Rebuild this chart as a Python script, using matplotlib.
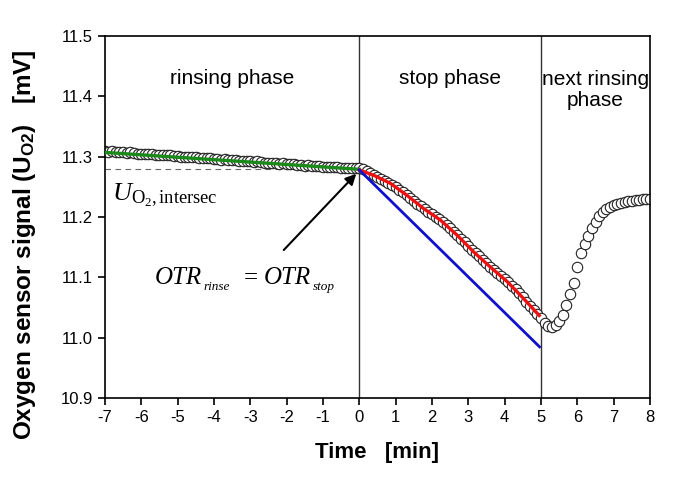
import numpy as np
import matplotlib
matplotlib.use("Agg")
import matplotlib.pyplot as plt

plt.rcParams['font.family'] = ['Liberation Sans', 'DejaVu Sans']
plt.rcParams['axes.unicode_minus'] = False
plt.rcParams['mathtext.fontset'] = 'custom'
plt.rcParams['mathtext.rm'] = 'Liberation Serif'
plt.rcParams['mathtext.it'] = 'Liberation Serif:italic'
plt.rcParams['mathtext.bf'] = 'Liberation Sans:bold'
plt.rcParams['mathtext.sf'] = 'Liberation Sans'

# measured sensor signal, one point every 0.1 min from -7 to 8 min
t_meas = np.round(np.arange(-7.0, 8.05, 0.1), 1)
u_meas = [
    # rinsing phase (-7.0 ... -0.1)
    11.309, 11.308, 11.309, 11.308, 11.307, 11.307, 11.306, 11.307, 11.306, 11.305,
    11.305, 11.304, 11.305, 11.304, 11.303, 11.303, 11.302, 11.303, 11.302, 11.301,
    11.301, 11.300, 11.300, 11.299, 11.300, 11.299, 11.298, 11.298, 11.297, 11.297,
    11.296, 11.296, 11.295, 11.296, 11.295, 11.294, 11.294, 11.293, 11.293, 11.292,
    11.292, 11.291, 11.292, 11.291, 11.290, 11.290, 11.289, 11.289, 11.288, 11.289,
    11.288, 11.287, 11.287, 11.286, 11.286, 11.285, 11.286, 11.285, 11.284, 11.284,
    11.283, 11.283, 11.283, 11.282, 11.282, 11.281, 11.281, 11.281, 11.281, 11.281,
    # stop phase (0.0 ... 4.9)
    11.281, 11.280, 11.277, 11.273, 11.269, 11.266, 11.263, 11.260, 11.257, 11.253,
    11.249, 11.245, 11.241, 11.237, 11.232, 11.227, 11.222, 11.218, 11.213, 11.209,
    11.205, 11.200, 11.196, 11.191, 11.186, 11.181, 11.175, 11.170, 11.164, 11.158,
    11.152, 11.146, 11.140, 11.135, 11.129, 11.124, 11.118, 11.113, 11.108, 11.103,
    11.098, 11.092, 11.086, 11.080, 11.074, 11.067, 11.060, 11.053, 11.046, 11.040,
    # next rinsing phase (5.0 ... 8.0)
    11.033, 11.025, 11.019, 11.018, 11.021, 11.027, 11.037, 11.055, 11.072, 11.090,
    11.118, 11.140, 11.155, 11.168, 11.181, 11.192, 11.201, 11.208, 11.213, 11.217,
    11.220, 11.222, 11.224, 11.225, 11.226, 11.227, 11.228, 11.228, 11.229, 11.229,
    11.229,
]

# linear fit of rinsing phase
green_t = [-7.0, 0.0]
green_u = [11.307, 11.279]

# fit of stop phase
red_t = [0.0, 0.4, 0.85, 1.31, 1.77, 2.23, 2.69, 3.15, 3.61, 4.07, 4.52, 4.95]
red_u = [11.278, 11.269, 11.256, 11.236, 11.214, 11.195, 11.170, 11.142, 11.117, 11.093, 11.065, 11.037]

# initial slope of stop phase
blue_t = [0.0, 4.96]
blue_u = [11.278, 10.985]

u_intersec = 11.279
phase_bounds = [0, 5]

fig = plt.figure(figsize=(6.85, 4.78), dpi=100)
ax = fig.add_axes([0.153, 0.167, 0.796, 0.758])

ax.plot(t_meas, u_meas, 'o', mfc='white', mec='#222222', mew=0.8, ms=7.5, zorder=2)
ax.plot(green_t, green_u, color='#1a8a1a', lw=2.4, zorder=3)
ax.plot(red_t, red_u, color='#ee1111', lw=2.4, zorder=3)
ax.plot(blue_t, blue_u, color='#1010cc', lw=2.0, zorder=3)
ax.plot([-7, 0], [u_intersec, u_intersec], '--', color='#666666', lw=0.8, dashes=(5, 4), zorder=1)
for b in phase_bounds:
    ax.axvline(b, color='#333333', lw=1.0, zorder=1)

ax.set_xlim(-7, 8)
ax.set_ylim(10.9, 11.5)
ax.set_xticks(range(-7, 9))
ax.set_yticks(np.arange(10.9, 11.51, 0.1))
ax.yaxis.set_major_formatter(matplotlib.ticker.FormatStrFormatter('%.1f'))
ax.tick_params(direction='out', length=5, width=1.2, labelsize=12, top=False, right=False)
for s in ax.spines.values():
    s.set_linewidth(1.2)

ax.set_xlabel('Time   [min]', fontsize=16, fontweight='bold', labelpad=12)
ax.set_ylabel(r'Oxygen sensor signal (U$\mathbf{_{O2}}$)   [mV]', fontsize=17.5,
              fontweight='bold')
ax.yaxis.set_label_coords(-0.123, 0.423)

ax.text(-3.5, 11.43, 'rinsing phase', fontsize=15, ha='center', va='center')
ax.text(2.5, 11.43, 'stop phase', fontsize=15, ha='center', va='center')
ax.text(6.5, 11.41, 'next rinsing\nphase', fontsize=15, ha='center', va='center',
        linespacing=1.15)

ax.text(-6.8, 11.228, r'$U_{\mathrm{O_2,intersec}}$', fontsize=19, ha='left', va='baseline')

# OTR_rinse = OTR_stop, pieces placed separately (small low subscripts)
serif = dict(family='Liberation Serif', va='baseline')
ax.text(-5.62, 11.089, 'OTR', fontsize=18, style='italic', **serif)
ax.text(-4.29, 11.079, 'rinse', fontsize=9.5, style='italic', **serif)
ax.text(-3.19, 11.089, '=', fontsize=18, **serif)
ax.text(-2.64, 11.089, 'OTR', fontsize=18, style='italic', **serif)
ax.text(-1.27, 11.079, 'stop', fontsize=9.5, style='italic', **serif)

ax.annotate('', xy=(-0.03, 11.275), xytext=(-2.13, 11.142),
            arrowprops=dict(arrowstyle='-|>', color='black', lw=1.5, mutation_scale=16))

fig.savefig('out.png', dpi=100)
